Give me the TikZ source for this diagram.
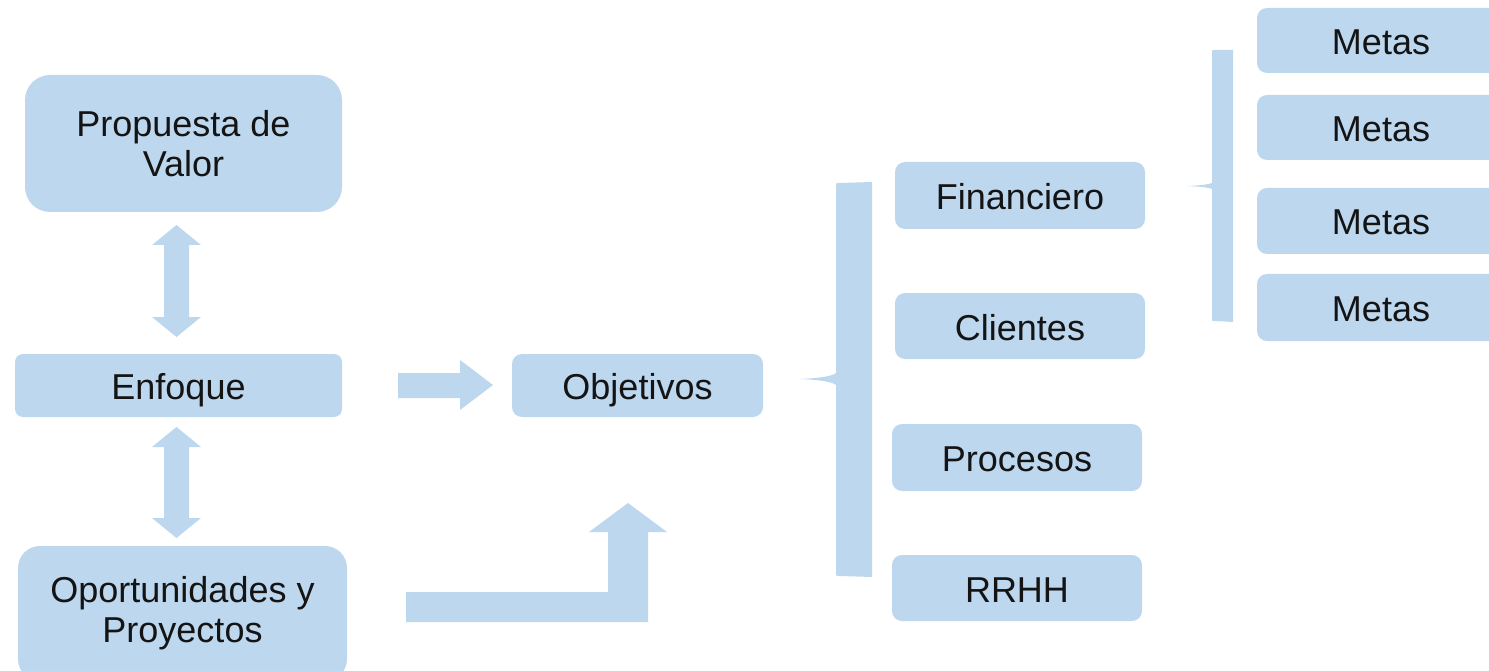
\documentclass[tikz,border=0pt]{standalone}
\usepackage{fontspec}
\setmainfont{Liberation Sans}
\definecolor{bx}{HTML}{BDD7EE}
\definecolor{txt}{HTML}{141414}
\tikzset{
  box/.style={fill=bx, rounded corners=10pt, inner sep=0pt, align=center,
    text=txt, font=\fontsize{36}{40}\selectfont},
  one/.style={text height=34pt, text depth=6pt},
  blk/.style={fill=bx}
}
\begin{document}
\begin{tikzpicture}[x=1pt,y=-1pt]
\path[use as bounding box, clip] (0,0) rectangle (1489,671);
% left column
\node[box, rounded corners=25pt, minimum width=317pt, minimum height=137pt] (prop) at (183.5,143.5) {Propuesta de\\Valor};
\node[box, one, rounded corners=8pt, minimum width=327pt, minimum height=63pt] (enf) at (178.5,385.5) {Enfoque};
\node[box, rounded corners=22pt, minimum width=329pt, minimum height=135pt] (opo) at (182.5,613.5) {Oportunidades y\\Proyectos};
\node[box, one, minimum width=251pt, minimum height=63pt] (obj) at (637.5,385.5) {Objetivos};
% perspectives
\node[box, one, minimum width=250pt, minimum height=67pt] (fin) at (1020,195.5) {Financiero};
\node[box, one, minimum width=250pt, minimum height=66pt] (cli) at (1020,326) {Clientes};
\node[box, one, minimum width=250pt, minimum height=67pt] (pro) at (1017,457.5) {Procesos};
\node[box, one, minimum width=250pt, minimum height=66pt] (rrh) at (1017,588) {RRHH};
% metas
\node[box, one, minimum width=248pt, minimum height=65pt] (m1) at (1381,40.5) {Metas};
\node[box, one, minimum width=248pt, minimum height=65pt] (m2) at (1381,127.5) {Metas};
\node[box, one, minimum width=248pt, minimum height=66pt] (m3) at (1381,221) {Metas};
\node[box, one, minimum width=248pt, minimum height=67pt] (m4) at (1381,307.5) {Metas};
% double arrows
\fill[blk] (176.5,225) -- (201,245) -- (189,245) -- (189,317) -- (201,317) -- (176.5,337) -- (152,317) -- (164,317) -- (164,245) -- (152,245) -- cycle;
\fill[blk] (176.5,427) -- (201,447) -- (189,447) -- (189,518) -- (201,518) -- (176.5,538) -- (152,518) -- (164,518) -- (164,447) -- (152,447) -- cycle;
% right arrow
\fill[blk] (398,373) -- (460,373) -- (460,360) -- (493,385) -- (460,410) -- (460,398) -- (398,398) -- cycle;
% bent arrow
\fill[blk] (406,592) -- (608,592) -- (608,532) -- (589,532) -- (628,503) -- (667,532) -- (648,532) -- (648,622) -- (406,622) -- cycle;
% bracket 1
\fill[blk] (800,379) .. controls (822,378) and (832,376) .. (836,373) -- (836,186)
  .. controls (836,183) .. (840,183) -- (872,182) -- (872,577) -- (840,576)
  .. controls (836,576) .. (836,572) -- (836,385) .. controls (832,382) and (822,380) .. (800,379) -- cycle;
% bracket 2
\fill[blk] (1187,186) .. controls (1200,185.5) and (1208,184.5) .. (1212,183) -- (1212,52)
  .. controls (1212,50) .. (1215,50) -- (1233,50) -- (1233,322) -- (1215,321)
  .. controls (1212,321) .. (1212,319) -- (1212,189) .. controls (1208,187.5) and (1200,186.5) .. (1187,186) -- cycle;
\end{tikzpicture}
\end{document}
